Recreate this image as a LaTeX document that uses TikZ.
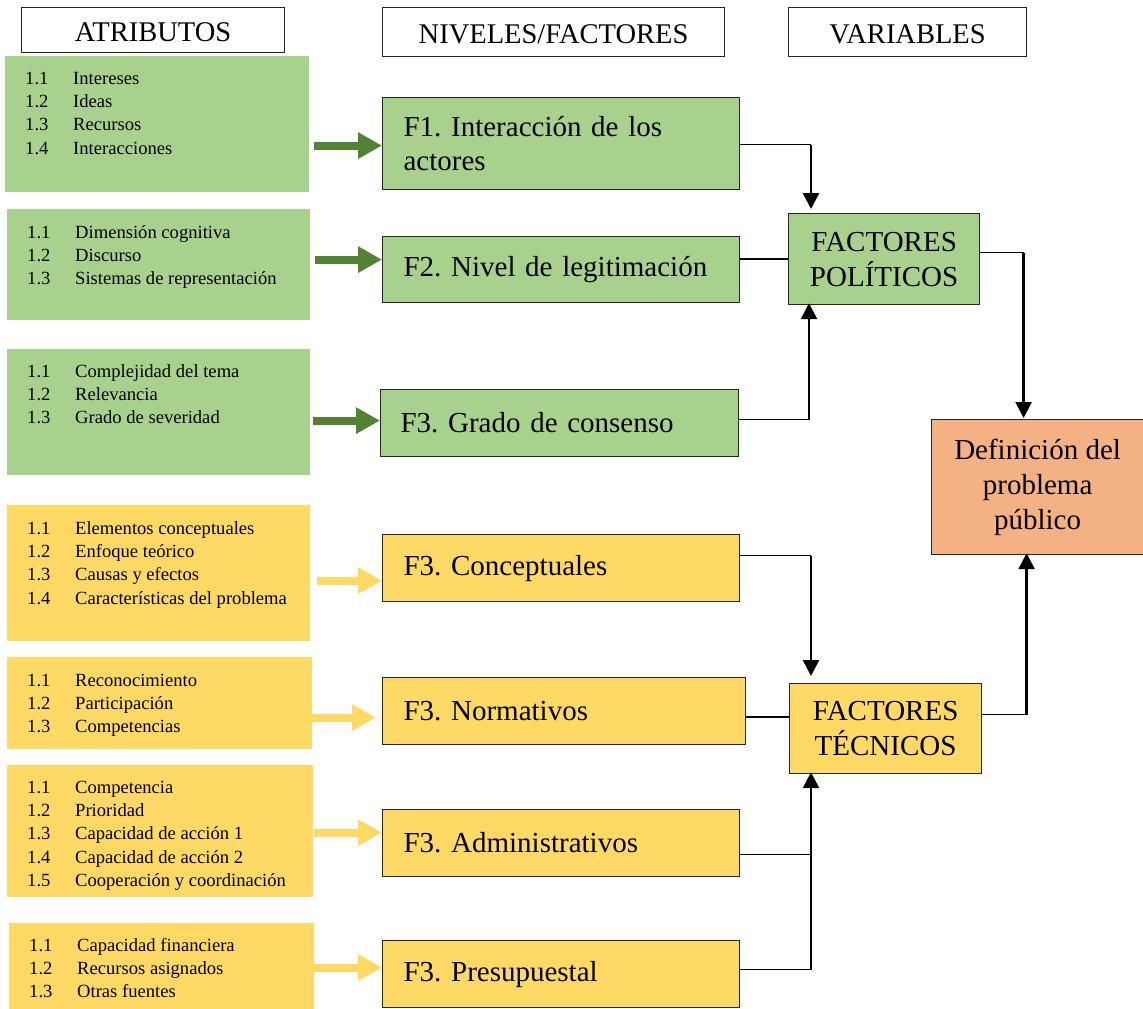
\documentclass[tikz,border=0pt]{standalone}
\usepackage{fontspec}
\setmainfont{Liberation Serif}
\usetikzlibrary{arrows.meta}

\definecolor{verde}{HTML}{A9D18E}
\definecolor{verdeosc}{HTML}{548235}
\definecolor{amarillo}{HTML}{FFD966}
\definecolor{naranja}{HTML}{F4B183}
\definecolor{borde}{HTML}{262626}

% one numbered row of an attribute list
\newcommand{\fila}[2]{\makebox[48pt][l]{#1}#2\\}

\begin{document}
\frenchspacing
\begin{tikzpicture}[x=1pt,y=-1pt,
  hdr/.style={draw=borde, line width=1.2pt, fill=white, inner sep=0pt,
    anchor=north west, text height=22.8pt, text depth=0pt,
    font=\fontsize{28.5}{34}\selectfont},
  attrbox/.style={fill=#1, inner sep=0pt, anchor=north west},
  attrtext/.style={inner sep=0pt, anchor=base west,
    font=\fontsize{18.6}{23.4}\selectfont},
  fbox/.style={draw=borde, line width=1.2pt, fill=#1, inner xsep=21pt,
    inner ysep=0pt, anchor=north west, align=left,
    font=\fontsize{29}{34}\selectfont},
  vbox/.style={draw=borde, line width=1.2pt, fill=#1, inner sep=0pt,
    anchor=north west, align=center, font=\fontsize{29}{35}\selectfont},
  garrow/.style={draw=#1, line width=8pt,
    -{Triangle[length=24pt,width=25pt,fill=#1]}},
  thinline/.style={draw=black, line width=1.3pt},
  vline/.style={draw=black, line width=2.6pt,
    -{Triangle[length=16pt,width=16pt]}},
]
\useasboundingbox (0,0) rectangle (1143,1009);

% column headers
\node[hdr, minimum width=263pt, minimum height=45pt] (h1) at (21,7) {ATRIBUTOS};
\node[hdr, minimum width=342pt, minimum height=49pt] (h2) at (382,7) {NIVELES/FACTORES};
\node[hdr, minimum width=238pt, minimum height=49pt] (h3) at (788,7) {VARIABLES};

% attribute panels
\node[attrbox=verde, minimum width=304pt, minimum height=136pt] (a1) at (5,56) {};
\node[attrbox=verde, minimum width=303pt, minimum height=111pt] (a2) at (7,209) {};
\node[attrbox=verde, minimum width=303pt, minimum height=126pt] (a3) at (7,349) {};
\node[attrbox=amarillo, minimum width=303pt, minimum height=136pt] (a4) at (7,505) {};
\node[attrbox=amarillo, minimum width=305pt, minimum height=92pt] (a5) at (7,657) {};
\node[attrbox=amarillo, minimum width=306pt, minimum height=132pt] (a6) at (7,765) {};
\node[attrbox=amarillo, minimum width=305pt, minimum height=86pt] (a7) at (9,923) {};

\node[attrtext] (t1) at (25,84) {\begin{tabular}[t]{@{}l@{}}
  \fila{1.1}{Intereses}\fila{1.2}{Ideas}\fila{1.3}{Recursos}\fila{1.4}{Interacciones}\end{tabular}};
\node[attrtext] (t2) at (27,238) {\begin{tabular}[t]{@{}l@{}}
  \fila{1.1}{Dimensión cognitiva}\fila{1.2}{Discurso}\fila{1.3}{Sistemas de representación}\end{tabular}};
\node[attrtext] (t3) at (27,377) {\begin{tabular}[t]{@{}l@{}}
  \fila{1.1}{Complejidad del tema}\fila{1.2}{Relevancia}\fila{1.3}{Grado de severidad}\end{tabular}};
\node[attrtext] (t4) at (27,534) {\begin{tabular}[t]{@{}l@{}}
  \fila{1.1}{Elementos conceptuales}\fila{1.2}{Enfoque teórico}\fila{1.3}{Causas y efectos}\fila{1.4}{Características del problema}\end{tabular}};
\node[attrtext] (t5) at (27,686) {\begin{tabular}[t]{@{}l@{}}
  \fila{1.1}{Reconocimiento}\fila{1.2}{Participación}\fila{1.3}{Competencias}\end{tabular}};
\node[attrtext] (t6) at (27,793) {\begin{tabular}[t]{@{}l@{}}
  \fila{1.1}{Competencia}\fila{1.2}{Prioridad}\fila{1.3}{Capacidad de acción 1}\fila{1.4}{Capacidad de acción 2}\fila{1.5}{Cooperación y coordinación}\end{tabular}};
\node[attrtext] (t7) at (29,951) {\begin{tabular}[t]{@{}l@{}}
  \fila{1.1}{Capacidad financiera}\fila{1.2}{Recursos asignados}\fila{1.3}{Otras fuentes}\end{tabular}};

% factor boxes
\node[fbox=verde, text width=315pt, minimum height=92pt] (f1) at (382,97) {F1. Interacción de los\\actores};
\node[fbox=verde, text width=315pt, minimum height=66pt] (f2) at (382,236) {F2. Nivel de legitimación};
\node[fbox=verde, inner xsep=20pt, text width=318pt, minimum height=67pt] (f3) at (380,389) {F3. Grado de consenso};
\node[fbox=amarillo, text width=315pt, minimum height=67pt] (f4) at (382,534) {F3. Conceptuales};
\node[fbox=amarillo, text width=321pt, minimum height=67pt] (f5) at (382,677) {F3. Normativos};
\node[fbox=amarillo, text width=315pt, minimum height=67pt] (f6) at (382,809) {F3. Administrativos};
\node[fbox=amarillo, text width=315pt, minimum height=67pt] (f7) at (382,940) {F3. Presupuestal};

% variables
\node[vbox=verde, minimum width=191pt, minimum height=91pt] (fp) at (788,213) {FACTORES\\POLÍTICOS};
\node[vbox=amarillo, minimum width=192pt, minimum height=90pt] (ft) at (789,683) {FACTORES\\TÉCNICOS};
\node[vbox=naranja, minimum width=212pt, minimum height=135pt] (def) at (931,419) {Definición del\\problema\\público};

% attributes feed their factors
\draw[garrow=verdeosc] ([xshift=5pt]a1.east |- f1.west) ++(0,2) -- ([yshift=-2pt]f1.west);
\draw[garrow=verdeosc] ([xshift=5pt]a2.east |- f2.west) ++(0,-10) -- ([yshift=10pt]f2.west);
\draw[garrow=verdeosc] ([xshift=3pt]a3.east |- f3.west) ++(0,-2.5) -- ([yshift=2.5pt]f3.west);
\draw[garrow=amarillo] ([xshift=7pt]a4.east |- f4.west) ++(0,12.5) -- ([yshift=-12.5pt]f4.west);
\draw[garrow=amarillo] (a5.east |- f5.west) ++(0,6.5) -- ([xshift=-6pt,yshift=-6.5pt]f5.west);
\draw[garrow=amarillo] ([xshift=1pt]a6.east |- f6.west) ++(0,-10.5) -- ([yshift=10.5pt]f6.west);
\draw[garrow=amarillo] (a7.east |- f7.west) ++(0,-6.5) -- ([yshift=6.5pt]f7.west);

% junction points on the variable boxes
\coordinate (j1) at ([xshift=23pt]fp.north west);
\coordinate (j2) at ([xshift=21pt]fp.south west);
\coordinate (j3) at ([xshift=-14pt]def.north);
\coordinate (j4) at ([xshift=22pt]ft.north west);
\coordinate (j5) at ([xshift=-11pt]def.south);
\coordinate (j6) at ([xshift=22pt]ft.south west);

% political factors
\draw[thinline] ([yshift=-1pt]f1.east) -- ([yshift=-1pt]f1.east -| j1);
\draw[vline, shorten >=4pt] ([yshift=-1pt]f1.east -| j1) -- (j1);
\draw[thinline] (fp.west -| f2.east) -- (fp.west);
\draw[thinline] ([yshift=3.5pt]f3.east) -- ([yshift=3.5pt]f3.east -| j2);
\draw[vline, shorten >=-2pt] ([yshift=3.5pt]f3.east -| j2) -- (j2);
\draw[thinline] ([yshift=6.5pt]fp.east) -- ([yshift=6.5pt]fp.east -| j3);
\draw[vline, shorten >=1pt] ([yshift=6.5pt]fp.east -| j3) -- (j3);

% technical factors
\draw[thinline] ([yshift=12.5pt]f4.east) -- ([yshift=12.5pt]f4.east -| j4);
\draw[vline, shorten >=7pt] ([yshift=12.5pt]f4.east -| j4) -- (j4);
\draw[thinline] ([yshift=-6pt]f5.east) -- ([yshift=-6pt]f5.east -| ft.west);
\draw[thinline] ([yshift=14pt]ft.east) -- ([yshift=14pt]ft.east -| j5);
\draw[vline, shorten >=-2pt] ([yshift=14pt]ft.east -| j5) -- (j5);
\draw[thinline] ([yshift=-11.5pt]f6.east) -- ([yshift=-11.5pt]f6.east -| j6);
\draw[thinline] ([yshift=4.5pt]f7.east) -- ([yshift=4.5pt]f7.east -| j6);
\draw[vline, shorten >=-2pt] ([yshift=4.5pt]f7.east -| j6) -- (j6);
\end{tikzpicture}
\end{document}
